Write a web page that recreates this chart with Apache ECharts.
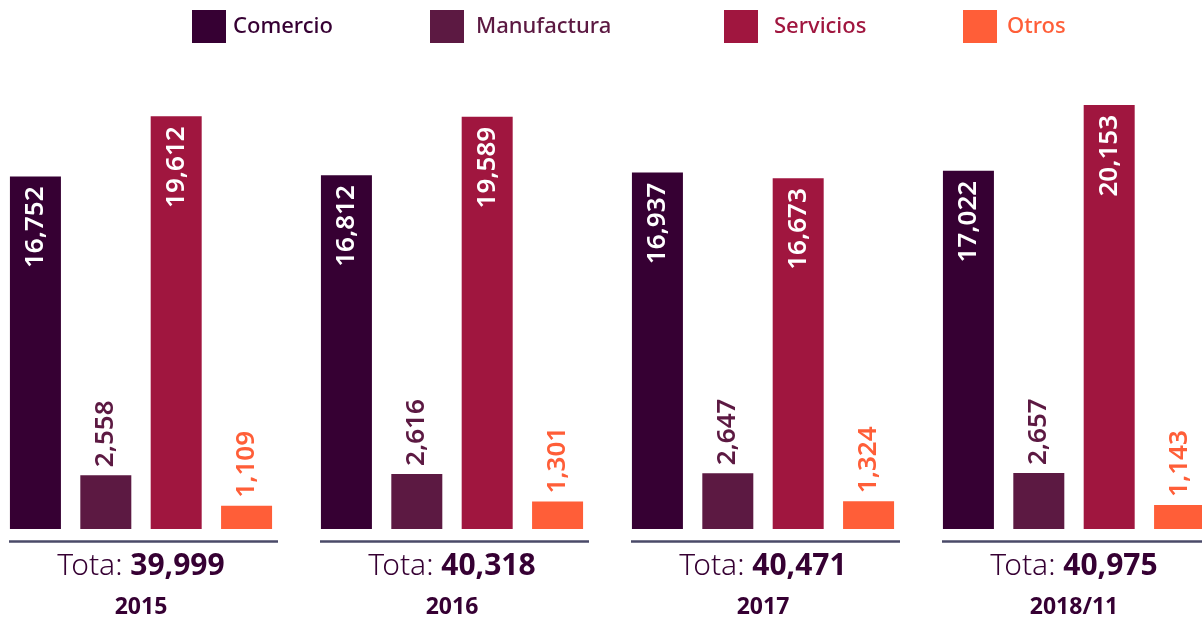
<!DOCTYPE html>
<html>
<head>
<meta charset="utf-8">
<style>
	html, body { margin: 0; padding: 0; background: #ffffff; }
	#chart { width: 1202px; height: 619px; }
</style>
<script src="https://cdn.jsdelivr.net/npm/echarts@6/dist/echarts.min.js"></script>
</head>
<body>
<div id="chart"></div>
<script>
// datos
var categorias = [ '2015', '2016', '2017', '2018/11' ];
var comercio = [ 16752, 16812, 16937, 17022 ];
var manufactura = [ 2558, 2616, 2647, 2657 ];
var servicios = [ 19612, 19589, 16673, 20153 ];
var otros = [ 1109, 1301, 1324, 1143 ];
var totales = [ 39999, 40318, 40471, 40975 ];

var nombres = [ 'Comercio', 'Manufactura', 'Servicios', 'Otros' ];
var colores = [ '#360033', '#5c1942', '#a0163f', '#ff5e38' ];
var fuente = 'Noto Sans';

function fmt(v) {
	return Number(v).toLocaleString('en-US');
}

function labelDentro() {
	return {
		show : true,
		position : 'insideTop',
		rotate : 90,
		align : 'right',
		verticalAlign : 'middle',
		distance : 10,
		color : '#ffffff',
		fontFamily : fuente,
		fontSize : 26,
		fontWeight : 600,
		formatter : function(p) { return fmt(p.value); }
	};
}

function labelFuera(color) {
	return {
		show : true,
		position : 'top',
		rotate : 90,
		align : 'left',
		verticalAlign : 'middle',
		distance : 8,
		color : color,
		fontFamily : fuente,
		fontSize : 26,
		fontWeight : 600,
		formatter : function(p) { return fmt(p.value); }
	};
}

var leyendaX = [ 192, 430, 724, 963 ];
var leyendaGap = [ 7, 12, 16, 10 ];
var leyendas = nombres.map(function(n, i) {
	return {
		data : [ n ],
		left : leyendaX[i],
		top : 10,
		padding : 0,
		itemWidth : 34,
		itemHeight : 33,
		icon : 'rect',
		selectedMode : false,
		textStyle : {
			color : colores[i],
			fontFamily : fuente,
			fontSize : 22,
			fontWeight : 500,
			padding : [ 0, 0, 0, leyendaGap[i] - 5 ]
		}
	};
});

var myChart = echarts.init(document.getElementById('chart'));
var option = {
	animation : false,
	legend : leyendas,
	grid : {
		left : 141,
		right : 128,
		top : 2.9,
		bottom : 89.5,
		containLabel : false
	},
	xAxis : {
		type : 'category',
		data : categorias,
		boundaryGap : false,
		axisLine : { show : false },
		axisTick : { show : false },
		axisLabel : {
			margin : 17,
			formatter : function(v, i) {
				return '{t|Tota: }{n|' + fmt(totales[i]) + '}\n{y|' + v + '}';
			},
			rich : {
				t : { fontFamily : fuente, fontSize : 30, fontWeight : 300, color : '#360033', lineHeight : 41 },
				n : { fontFamily : fuente, fontSize : 30, fontWeight : 700, color : '#360033', lineHeight : 41 },
				y : { fontFamily : fuente, fontSize : 23, fontWeight : 700, color : '#360033', lineHeight : 41 }
			}
		}
	},
	yAxis : {
		type : 'value',
		min : 0,
		max : 25000,
		show : false,
		splitLine : { show : false }
	},
	series : [ {
		name : 'Comercio',
		type : 'bar',
		data : comercio,
		barWidth : 51,
		barGap : '38%',
		itemStyle : { color : colores[0] },
		label : labelDentro()
	}, {
		name : 'Manufactura',
		type : 'bar',
		data : manufactura,
		barWidth : 51,
		barGap : '38%',
		itemStyle : { color : colores[1] },
		label : labelFuera(colores[1])
	}, {
		name : 'Servicios',
		type : 'bar',
		data : servicios,
		barWidth : 51,
		barGap : '38%',
		itemStyle : { color : colores[2] },
		label : labelDentro()
	}, {
		name : 'Otros',
		type : 'bar',
		data : otros,
		barWidth : 51,
		barGap : '38%',
		itemStyle : { color : colores[3] },
		label : labelFuera(colores[3])
	}, {
		// linea bajo cada grupo
		type : 'custom',
		data : categorias.map(function(c, i) { return [ i, 0 ]; }),
		silent : true,
		z : 1,
		renderItem : function(params, api) {
			var p = api.coord([ api.value(0), 0 ]);
			var y = p[1] + 12.5;
			return {
				type : 'line',
				shape : { x1 : p[0] - 132, y1 : y, x2 : p[0] + 137, y2 : y },
				style : { stroke : '#4a4a68', lineWidth : 2.5 }
			};
		}
	} ]
};
myChart.setOption(option);
</script>
</body>
</html>
